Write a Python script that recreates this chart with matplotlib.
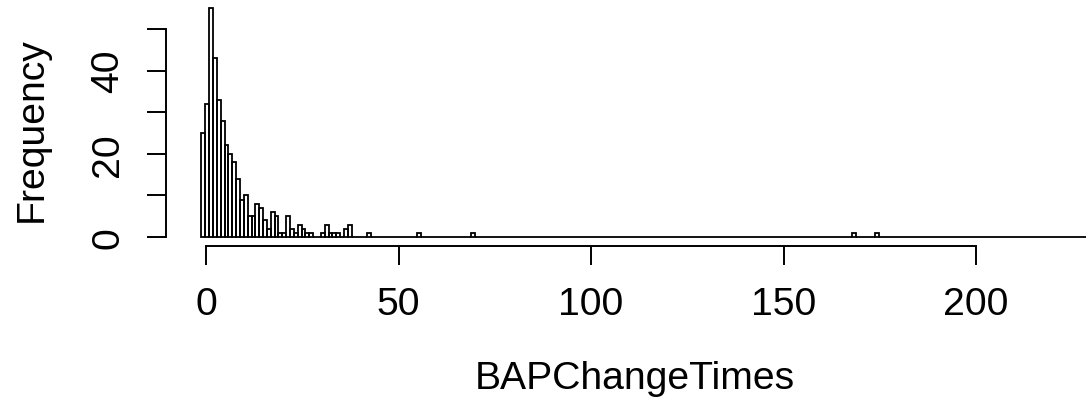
import numpy as np
import matplotlib
matplotlib.use("Agg")
import matplotlib.pyplot as plt

# ---- data ----
bin_start = -1.17          # left edge of first bin
bin_width = 1.0
n_bins = 231
# counts of the first 44 bins
counts_head = [25, 32, 55, 43, 33, 28, 22, 20, 18, 14,
               9, 10, 5, 5, 8, 7, 4, 2, 6, 5,
               1, 1, 5, 2, 1, 3, 2, 1, 1, 0,
               0, 1, 3, 1, 1, 1, 0, 2, 3, 0,
               0, 0, 0, 1]
# isolated bins further out: bin index -> count
outlier_bins = {56: 1, 70: 1, 169: 1, 175: 1}

x_ticks = [0, 50, 100, 150, 200]
y_ticks = [0, 10, 20, 30, 40, 50]
y_tick_labels = ["0", "", "20", "", "40", ""]
x_label = "BAPChangeTimes"
y_label = "Frequency"

# ---- build histogram arrays ----
counts = np.zeros(n_bins)
counts[:len(counts_head)] = counts_head
for k, v in outlier_bins.items():
    counts[k] = v
edges = bin_start + bin_width * np.arange(n_bins + 1)
centers = (edges[:-1] + edges[1:]) / 2

# ---- figure ----
plt.rcParams['font.family'] = ['Liberation Sans', 'DejaVu Sans']
W, H = 1086, 406
fig = plt.figure(figsize=(W / 100, H / 100), dpi=100)
ax_l, ax_r, ax_t, ax_b = 166, 1086, 0, 247
ax = fig.add_axes([ax_l / W, 1 - ax_b / H, (ax_r - ax_l) / W, (ax_b - ax_t) / H])

px_per_unit = (976 - 206) / 200.0
xmin = (ax_l - 206) / px_per_unit
xmax = (ax_r - 206) / px_per_unit
py_per_unit = (238 - 30) / 50.0
ymin = -(ax_b - 238) / py_per_unit
ymax = (238 - ax_t) / py_per_unit

ax.hist(centers, bins=edges, weights=counts, histtype='bar', fill=False,
        edgecolor='black', linewidth=1.3, clip_on=True)
ax.set_xlim(xmin, xmax)
ax.set_ylim(ymin, ymax)

for s in ['top', 'right']:
    ax.spines[s].set_visible(False)
ax.spines['left'].set_bounds(0, 50)
ax.spines['bottom'].set_bounds(0, 200)
for s in ['left', 'bottom']:
    ax.spines[s].set_linewidth(1.4)

fs = 28.2
ax.set_xticks(x_ticks)
ax.set_xticklabels([str(t) for t in x_ticks])
ax.set_yticks(y_ticks)
ax.set_yticklabels(y_tick_labels, rotation=90, va='center')
ax.tick_params(axis='both', direction='out', length=13.7, width=1.4,
               labelsize=fs, pad=15.0)

ax.set_xlabel(x_label, fontsize=fs)
ax.xaxis.set_label_coords((635 - ax_l) / (ax_r - ax_l), -(361 - ax_b) / (ax_b - ax_t))
ax.set_ylabel(y_label, fontsize=fs)
ax.yaxis.set_label_coords(-(ax_l - 50) / (ax_r - ax_l), (ax_b - 130) / (ax_b - ax_t))

fig.savefig("out.png", dpi=100)
